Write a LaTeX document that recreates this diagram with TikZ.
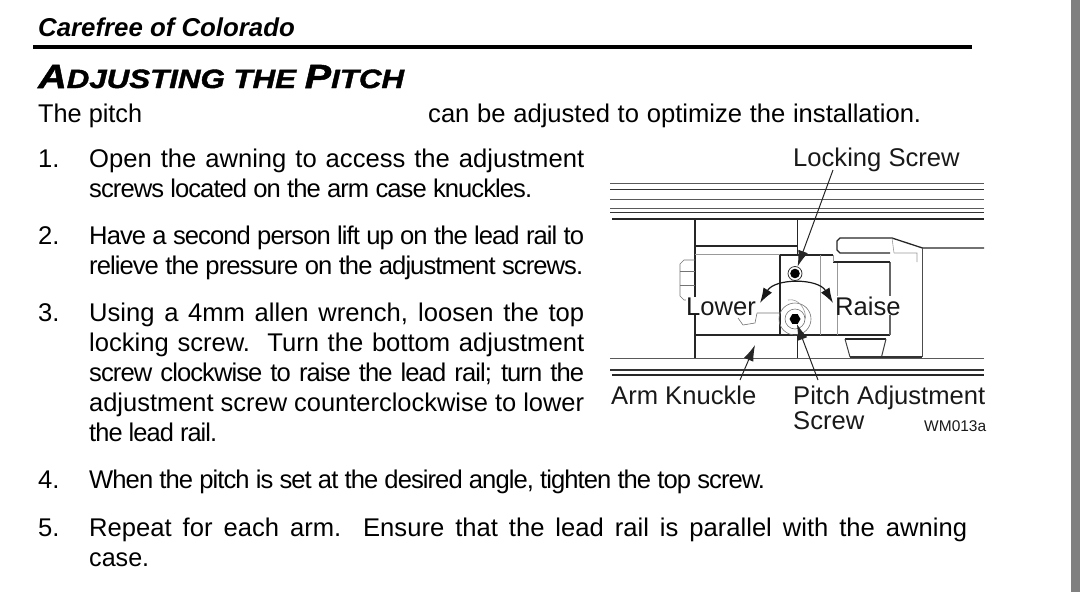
\documentclass[tikz,border=0pt]{standalone}
\usepackage{fontspec}
\usepackage{graphicx}
\setmainfont{Liberation Sans}
\newfontfamily\headfont[FakeStretch=1.18,FakeBold=1.5]{Liberation Sans Bold Italic}
\usetikzlibrary{arrows,arrows.meta,shapes.geometric}
\tikzstyle{body}=[anchor=north west,inner sep=0pt,align=left,font=\fontsize{25.6}{30}\selectfont]
\tikzstyle{num}=[anchor=north west,inner sep=0pt,font=\fontsize{25.6}{30}\selectfont,execute at begin node=\rule{0pt}{20pt}]
\tikzstyle{label}=[anchor=base west,inner sep=0pt,text=black!90,font=\fontsize{25.6}{25.6}\selectfont]
\tikzstyle{rail}=[line width=1pt,black!65]
\tikzstyle{railb}=[line width=1.6pt,black!80]
\tikzstyle{edge}=[line width=1.3pt,black!85]
\tikzstyle{thin}=[line width=0.6pt,black!40]
\tikzstyle{leader}=[-{Latex[length=16pt,width=10pt]},line width=1pt,black!85]
\tikzstyle{turn}=[{Latex[length=15pt,width=10pt]}-{Latex[length=15pt,width=10pt]},line width=1.2pt,black!90]
\newsavebox{\fitbox}
\newcommand{\fit}[2]{\rule{0pt}{20pt}\sbox{\fitbox}{#2}\ifdim\wd\fitbox>#1\resizebox{#1}{\height}{\usebox{\fitbox}}\else\hbox to #1{\spaceskip=\fontdimen2\font plus 1fil\relax #2}\fi}
\newcommand{\tight}[2]{{\addfontfeature{LetterSpace=-3.7}\fit{#1}{#2}}}
\begin{document}
\begin{tikzpicture}[x=1pt,y=-1pt]
\useasboundingbox (0,0) rectangle (1080,592);

\fill [black!50] (1071,0) rectangle (1080,592);

\node (brand) [anchor=base west,inner sep=0pt,font=\fontsize{25.8}{26}\selectfont\bfseries\itshape] at (38,36) {Carefree of Colorado};
\draw [line width=4pt] (33,47) -- (972,47);
\node (head) [anchor=base west,inner sep=0pt] at (38,88) {\headfont\fontsize{33.5}{34}\selectfont A\fontsize{26.5}{34}\selectfont DJUSTING THE \fontsize{33.5}{34}\selectfont P\fontsize{26.5}{34}\selectfont ITCH};

\node (introa) [body] at (38,102) {\fit{104pt}{The pitch}};
\node (introb) [body] at (428,102) {\fit{493pt}{can be adjusted to optimize the installation.}};

\node (n1) [num] at (38,147) {1.};
\node (t1) [body] at (89,147) {\fit{495pt}{Open the awning to access the adjustment}\\\tight{443pt}{screws located on the arm case knuckles.}};
\node (n2) [num] at (38,224) {2.};
\node (t2) [body] at (89,224) {\tight{495pt}{Have a second person lift up on the lead rail to}\\\tight{494pt}{relieve the pressure on the adjustment screws.}};
\node (n3) [num] at (38,301) {3.};
\node (t3) [body] at (89,301) {\fit{495pt}{Using a 4mm allen wrench, loosen the top}\\\fit{495pt}{locking screw.\ \ Turn the bottom adjustment}\\\tight{495pt}{screw clockwise to raise the lead rail; turn the}\\\fit{495pt}{adjustment screw counterclockwise to lower}\\\tight{128pt}{the lead rail.}};
\node (n4) [num] at (38,468) {4.};
\node (t4) [body] at (89,468) {\tight{676pt}{When the pitch is set at the desired angle, tighten the top screw.}};
\node (n5) [num] at (38,516) {5.};
\node (t5) [body] at (89,516) {\fit{878pt}{Repeat for each arm.\ \ Ensure that the lead rail is parallel with the awning}\\\fit{60pt}{case.}};

% rails
\foreach \y in {183.5,199.5,208.5,358} \draw [rail] (610,\y) -- (984,\y);
\foreach \y in {189.5,212.5,370} \draw [railb] (610,\y) -- (984,\y);
\foreach \y in {219,375} \draw [line width=1.8pt,black!85] (612,\y) -- (984,\y);

% knuckle
\draw [edge] (695,219) -- (695,358);
\draw [edge] (797.5,219) -- (797.5,255);
\draw [edge] (797.5,335) -- (797.5,358);
\draw [edge] (695,246) -- (797.5,246);
\draw [thin] (695,254) -- (780,254);
\draw [edge] (780,255) -- (833,255) (780,255) -- (780,335);
\draw [edge] (695,335) -- (890,335);
\draw [thin] (820.5,255) -- (820.5,335);
\draw [thin] (837,263) -- (837,335);
\draw [line width=2pt,black!60] (890,262) -- (890,335);

% bolt
\draw [thin,black!55] (695,260) -- (684,260) -- (680,264) -- (680,296) -- (684,300) -- (695,300);
\draw [thin,black!55] (680,271.5) -- (695,271.5) (680,285) -- (695,285);

% cap
\draw [edge] (890,253) -- (840,253) -- (837,250) -- (837,241) -- (840,238) -- (892,238) -- (922.5,248) -- (984,248);
\draw [line width=1pt,black!70] (922.5,248) -- (922.5,357);
\draw [thin] (892,238) -- (894,253) (894,253) -- (917,253) -- (917,262);
\draw [edge] (833,262) -- (890,262);
\draw [thin] (833,255) -- (833,262);

% foot and notch
\draw [edge] (845,339) -- (886,339);
\draw [line width=1pt,black!75] (845,339) -- (850,357) (886,339) -- (881.5,357);
\draw [thin,black!55] (757,313) -- (780,313) (757,313) -- (755,323) -- (743,325) -- (738,318);
\draw [line width=1.6pt,black!80] (850,357) -- (922,357);

% screws
\node (lockScrew) [circle,draw=black!80,line width=0.8pt,minimum size=14pt,inner sep=0pt] at (795,273.5) {};
\fill [black] (lockScrew) circle (4.8pt);
\draw [thin,black!55] (795,319) circle (10pt) (795,319) circle (16pt);
\draw [thin] (788,300) arc (100:0:15pt and 19pt);
\node (pitchScrew) [regular polygon,regular polygon sides=6,fill=black,minimum size=11pt,inner sep=0pt] at (795,319) {};

% labels
\node (lockLabel) [label] at (793,166) {Locking Screw};
\node (lowerLabel) [label,fill=white] at (686,315) {Lower};
\node (raiseLabel) [label,fill=white] at (835,315) {Raise};
\node (armLabel) [label] at (611,404) {Arm Knuckle};
\node (pitchLabel) [label] at (793,404) {Pitch Adjustment};
\node (screwLabel) [label] at (793,429) {Screw};
\node (wmLabel) [label,font=\fontsize{15.5}{16}\selectfont] at (924,431) {WM013a};

\coordinate (lockTail) at (833,170);
\coordinate (armTail) at (740,380);
\coordinate (armTip) at (755,345);
\coordinate (pitchTail) at (818,380);
\coordinate (lowerTip) at (760,303);
\coordinate (raiseTip) at (833,303);

\draw [leader] (lockTail) -- (lockScrew);
\draw [leader] (armTail) -- (armTip);
\draw [leader] (pitchTail) -- (pitchScrew);
\draw [turn] (lowerTip) .. controls (775,278) and (818,278) .. (raiseTip);

\end{tikzpicture}
\end{document}
